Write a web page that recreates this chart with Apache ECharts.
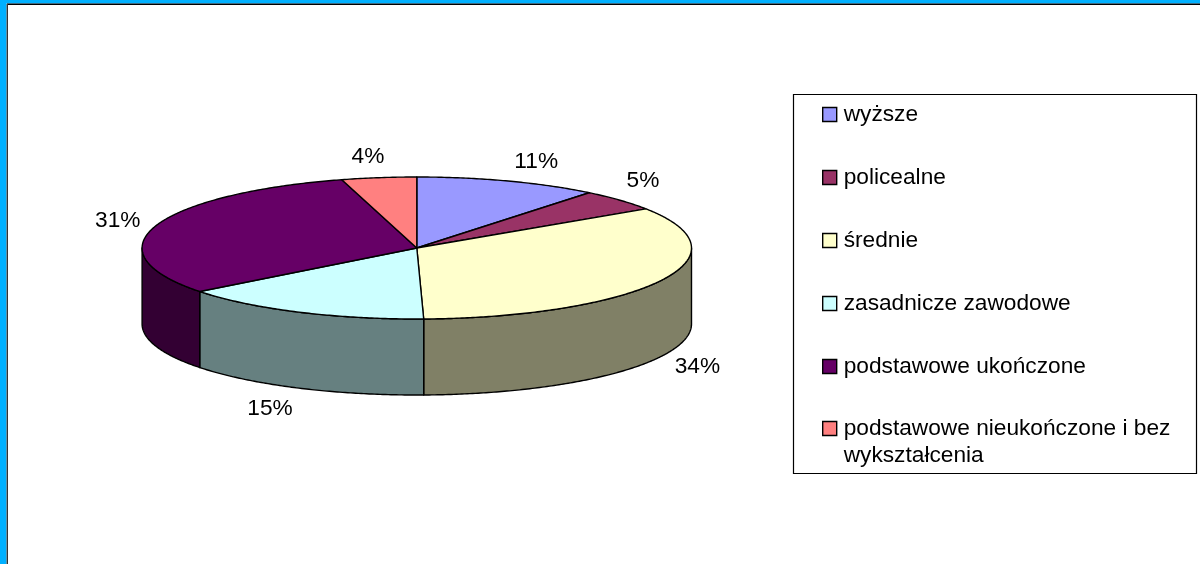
<!DOCTYPE html>
<html><head><meta charset="utf-8">
<style>html,body{margin:0;padding:0;background:#fff}#c{width:1200px;height:564px}</style>
<script src="https://cdn.jsdelivr.net/npm/echarts@6/dist/echarts.min.js"></script>
</head><body><div id="c"></div>
<script>
const categories = ['wyższe','policealne','średnie','zasadnicze zawodowe','podstawowe ukończone','podstawowe nieukończone i bez'];
const lastCategorySecondLine = 'wykształcenia';
const shares = [10.8, 4.9, 33.9, 14.9, 31.1, 4.4];
const topColors = ['#9999FF','#993366','#FFFFCC','#CCFFFF','#660066','#FF8080'];
const sideColors = ['#4D4D80','#4D1A33','#808066','#668080','#330033','#804040'];
const labelNudges = [[28,-19],[23,-19],[37,86],[-29,97],[-38,-5],[-11,-21]];

const CX = 416.8, CY = 248, RX = 274.7, RY = 71, DEPTH = 76;
const FONT = 'Liberation Sans';
const FONT_SIZE = 22.7;
const total = shares.reduce((a,b)=>a+b,0);
const starts = shares.map((_,i)=>shares.slice(0,i).reduce((a,b)=>a+b,0));
const toAngle = v => echarts.number.linearMap(v,[0,total],[0,Math.PI*2]);
const pt = (a,dy) => [CX+RX*Math.sin(a), CY-RY*Math.cos(a)+(dy||0)];
const arc = (a0,a1,dy) => {
  const n = Math.max(2,Math.ceil((a1-a0)/0.01)), out=[];
  for(let k=0;k<=n;k++) out.push(pt(a0+(a1-a0)*k/n,dy));
  return out;
};
const renderSlice = i => (params,api) => {
  const a0 = toAngle(api.value(0)), a1 = toAngle(api.value(0)+api.value(1));
  const children = [{
    type:'polygon', z2:2, shape:{points:[[CX,CY]].concat(arc(a0,a1))},
    style:{fill:topColors[i],stroke:'#000',lineWidth:1.4,lineJoin:'round'}
  }];
  const s0 = Math.max(a0,Math.PI/2), s1 = Math.min(a1,Math.PI*1.5);
  if(s1>s0){
    children.push({
      type:'polygon', z2:1, shape:{points:arc(s0,s1).concat(arc(s0,s1,DEPTH).reverse())},
      style:{fill:sideColors[i],stroke:'#000',lineWidth:1.4,lineJoin:'round'}
    });
  }
  const m = pt((a0+a1)/2);
  children.push({
    type:'text', z2:3,
    style:{text:Math.round(api.value(1))+'%',x:m[0]+labelNudges[i][0],y:m[1]+labelNudges[i][1],
      align:'center',verticalAlign:'middle',fill:'#000',font:FONT_SIZE+'px "'+FONT+'"'}
  });
  return {type:'group',children};
};
const legendText = {color:'#000',fontFamily:FONT,fontSize:FONT_SIZE,lineHeight:27,padding:[0,0,0,2]};
const legendBase = {orient:'vertical',left:817,itemWidth:14,itemHeight:14,icon:'rect',selectedMode:false,
  itemStyle:{borderColor:'#000',borderWidth:1.4},textStyle:legendText};
const option = {
  animation:false, backgroundColor:'#fff',
  legend:[
    Object.assign({},legendBase,{top:96,itemGap:36,data:categories.slice(0,5)}),
    Object.assign({},legendBase,{top:383,data:categories.slice(5),
      formatter:n=>'\n'+n+'\n'+lastCategorySecondLine})
  ],
  graphic:[
    {type:'rect',z:-1,shape:{x:0,y:0,width:1200,height:3.5},style:{fill:'#00B0FF'}},
    {type:'rect',z:-1,shape:{x:0,y:0,width:6.5,height:564},style:{fill:'#00B0FF'}},
    {type:'line',z:-1,shape:{x1:7,y1:4.2,x2:1200,y2:4.2},style:{stroke:'#000',lineWidth:1.5}},
    {type:'line',z:-1,shape:{x1:7.3,y1:4,x2:7.3,y2:564},style:{stroke:'#333',lineWidth:1.4}},
    {type:'rect',z:-1,shape:{x:793.5,y:94.5,width:403,height:379},style:{fill:'none',stroke:'#000',lineWidth:1.2}}
  ],
  series:categories.map((name,i)=>({
    type:'custom',name,coordinateSystem:'none',silent:true,
    itemStyle:{color:topColors[i]},
    data:[[starts[i],shares[i]]],
    renderItem:renderSlice(i)
  }))
};
echarts.init(document.getElementById('c')).setOption(option);
</script></body></html>
